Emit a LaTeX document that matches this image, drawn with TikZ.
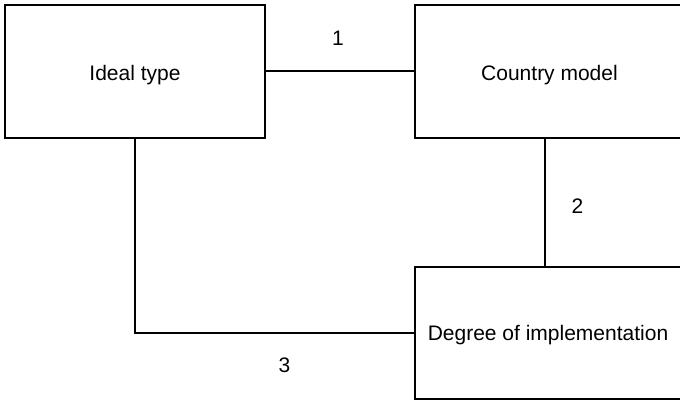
\documentclass[tikz,border=0pt]{standalone}
\usepackage{fontspec}
\setmainfont{Liberation Sans}
\begin{document}
\begin{tikzpicture}[x=1pt,y=-1pt,
  box/.style={draw=black,line width=2pt,inner sep=0pt,fill=white,
              font=\fontsize{21}{25}\selectfont},
  link/.style={draw=black,line width=2pt},
  tag/.style={inner sep=0pt,font=\fontsize{21}{25}\selectfont}]
  \useasboundingbox (0,0) rectangle (680,401);
  \clip (0,0) rectangle (680,401);
  % the three boxes
  \node[box,minimum width=260pt,minimum height=133pt,text height=19pt,text depth=0pt] (ideal) at (135,71.5) {Ideal type};
  \node[box,minimum width=269pt,minimum height=133pt,text height=19pt,text depth=0pt] (country) at (549.5,71.5) {Country model};
  \node[box,minimum width=266pt,minimum height=132pt,text height=17pt,text depth=1.6pt] (degree) at (548,333) {Degree of implementation};
  % connectors
  \coordinate (cdrop) at (545,0);
  \draw[link] (ideal.east) -- (country.west);
  \draw[link] (country.south -| cdrop) -- (degree.north -| cdrop);
  \draw[link] (ideal.south) |- (degree.west);
  % connector numbers
  \node[tag] (n1) at (338,38) {1};
  \node[tag] (n2) at (577.5,206) {2};
  \node[tag] (n3) at (284.5,365) {3};
\end{tikzpicture}
\end{document}
